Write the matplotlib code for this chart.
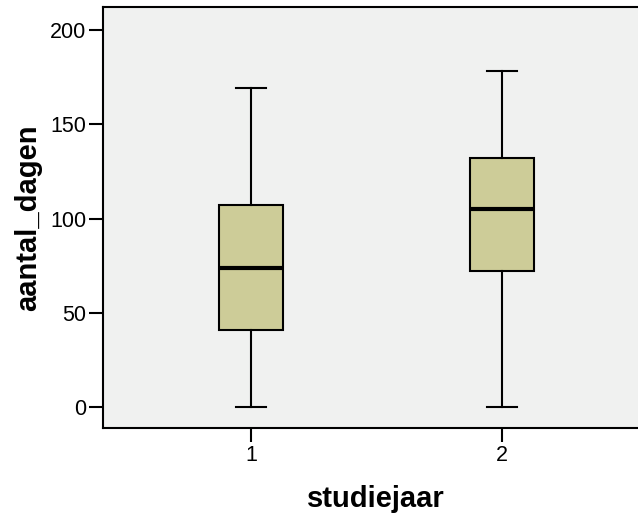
import matplotlib
matplotlib.use('Agg')
import matplotlib.pyplot as plt

plt.rcParams['font.family'] = ['Liberation Sans', 'DejaVu Sans']

groups = ['1', '2']
mins = [0, 0]
q1s = [41, 72]
medians = [74, 105]
q3s = [107, 132]
maxs = [169, 178]

stats = []
for g, lo, a, m, b, hi in zip(groups, mins, q1s, medians, q3s, maxs):
    stats.append({'label': g, 'whislo': lo, 'q1': a, 'med': m, 'q3': b, 'whishi': hi, 'fliers': []})

fig = plt.figure(figsize=(6.38, 5.16), dpi=100)
ax = fig.add_axes([0.1614, 0.1705, 0.857, 0.816])
ax.set_facecolor('#f0f1f0')

ax.bxp(stats, positions=[1, 2], widths=0.255, patch_artist=True, showfliers=False,
       boxprops=dict(facecolor='#cdcc98', edgecolor='black', linewidth=1.5),
       medianprops=dict(color='black', linewidth=3),
       whiskerprops=dict(color='black', linewidth=1.5),
       capprops=dict(color='black', linewidth=1.5),
       capwidths=0.12)

ax.set_xlim(0.41, 2.59)
ax.set_ylim(-11.1, 212.2)
ax.set_yticks([0, 50, 100, 150, 200])
ax.set_xticks([1, 2])
ax.set_xticklabels(groups)
for s in ax.spines.values():
    s.set_linewidth(1.5)
ax.tick_params(length=10, width=1.5, labelsize=15.5, pad=2)

ax.set_xlabel('studiejaar', fontsize=21, fontweight='bold', labelpad=14)
ax.set_ylabel('aantal_dagen', fontsize=21, fontweight='bold', labelpad=6)

fig.savefig('out.png', dpi=100)
